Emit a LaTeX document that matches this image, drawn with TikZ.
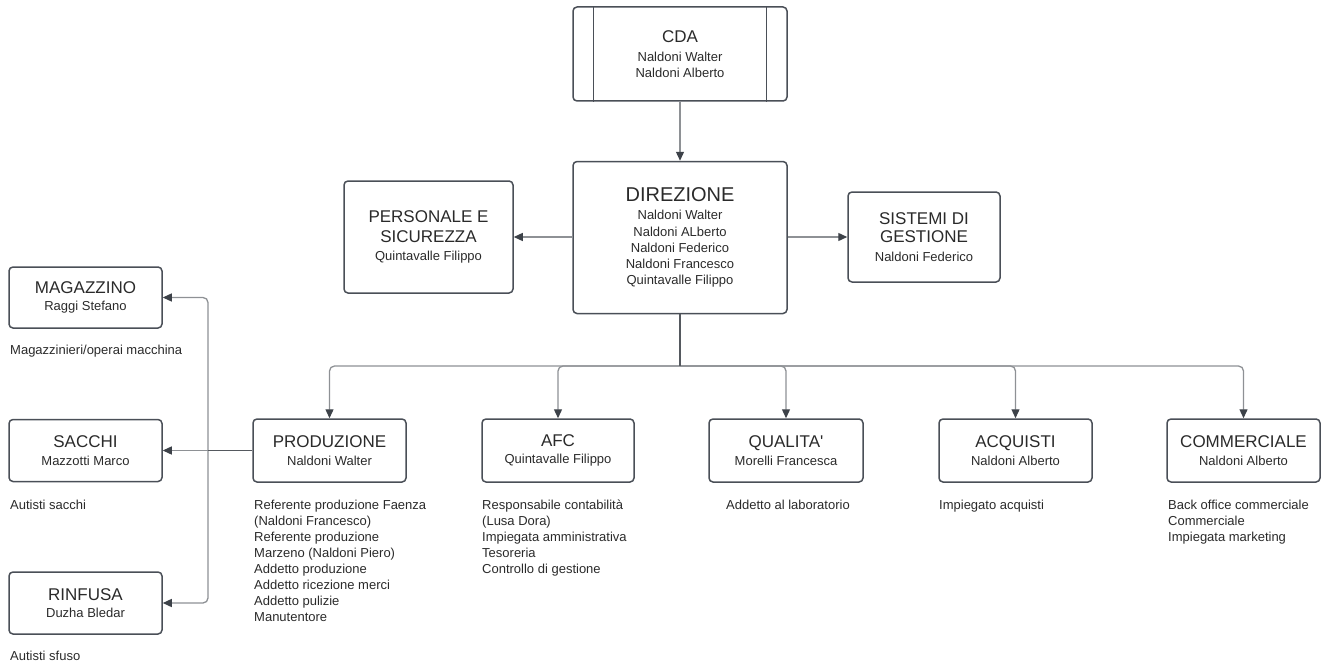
\documentclass[tikz,border=0pt]{standalone}
\usepackage{fontspec}
\setmainfont{Liberation Sans}
\usetikzlibrary{arrows.meta}
\definecolor{boxline}{HTML}{4A4F57}
\definecolor{connc}{HTML}{8E9195}
\definecolor{trunkc}{HTML}{55595F}
\definecolor{tipc}{HTML}{3D4249}
\definecolor{txt}{HTML}{2A2A2A}
\begin{document}
\begin{tikzpicture}[x=1pt,y=-1pt,
  box/.style={draw=boxline, line width=1.5pt, rounded corners=4pt, align=center,
    inner sep=0pt, text=txt, font=\fontsize{13}{16}\selectfont},
  conn/.style={draw=connc, line width=1.3pt, rounded corners=5pt,
    -{Triangle[length=9pt,width=8pt,color=tipc]}},
  trunk/.style={draw=trunkc, line width=1.3pt},
  list/.style={anchor=north west, align=left, inner sep=0pt, text=txt,
    font=\fontsize{13}{16}\selectfont}]
\useasboundingbox (0,0) rectangle (1327,666);

% top boxes
\node[box, minimum width=214pt, minimum height=94pt] (cda) at (680,54)
  {{\fontsize{17}{20}\selectfont CDA}\\[2.6pt]Naldoni Walter\\Naldoni Alberto};
\draw[draw=boxline, line width=1.3pt] ([xshift=21pt]cda.north west) -- ([xshift=21pt]cda.south west);
\draw[draw=boxline, line width=1.3pt] ([xshift=-21pt]cda.north east) -- ([xshift=-21pt]cda.south east);

\node[box, minimum width=214pt, minimum height=152pt, font=\fontsize{13}{16.3}\selectfont] (dir) at (680,237.5)
  {{\fontsize{20}{24}\selectfont DIREZIONE}\\[2.2pt]Naldoni Walter\\Naldoni ALberto\\Naldoni Federico\\Naldoni Francesco\\Quintavalle Filippo};

\node[box, minimum width=169pt, minimum height=112pt] (pers) at (428.5,237)
  {{\fontsize{17}{20}\selectfont PERSONALE E}\\[4pt]{\fontsize{17}{20}\selectfont SICUREZZA}\\[1.6pt]Quintavalle Filippo};

\node[box, minimum width=152pt, minimum height=90pt] (sis) at (924,237)
  {{\fontsize{17}{20}\selectfont SISTEMI DI}\\[2pt]{\fontsize{17}{20}\selectfont GESTIONE}\\[2.6pt]Naldoni Federico};

% department boxes
\node[box, minimum width=153pt, minimum height=63pt] (prod) at (329.5,450.5)
  {{\fontsize{17}{20}\selectfont PRODUZIONE}\\[1.6pt]Naldoni Walter};
\node[box, minimum width=152pt, minimum height=63pt] (afc) at (558,450.5)
  {{\fontsize{17}{20}\selectfont AFC}\\[1.6pt]Quintavalle Filippo};
\node[box, minimum width=154pt, minimum height=63pt] (qual) at (786,450.5)
  {{\fontsize{17}{20}\selectfont QUALITA\textquotesingle}\\[1.6pt]Morelli Francesca};
\node[box, minimum width=153pt, minimum height=63pt] (acq) at (1015.5,450.5)
  {{\fontsize{17}{20}\selectfont ACQUISTI}\\[1.6pt]Naldoni Alberto};
\node[box, minimum width=153pt, minimum height=63pt] (comm) at (1243.5,450.5)
  {{\fontsize{17}{20}\selectfont COMMERCIALE}\\[1.6pt]Naldoni Alberto};

% left boxes
\node[box, minimum width=153pt, minimum height=61pt] (mag) at (85.5,297.5)
  {{\fontsize{17}{20}\selectfont MAGAZZINO}\\[1.6pt]Raggi Stefano};
\node[box, minimum width=153pt, minimum height=62pt] (sac) at (85.5,450.5)
  {{\fontsize{17}{20}\selectfont SACCHI}\\[1.6pt]Mazzotti Marco};
\node[box, minimum width=153pt, minimum height=62pt] (rin) at (85.5,603)
  {{\fontsize{17}{20}\selectfont RINFUSA}\\[1.6pt]Duzha Bledar};

% connectors
\draw[conn] (cda.south) -- (dir.north);
\draw[conn] (pers.east -| dir.west) -- (pers.east);
\draw[conn] (sis.west -| dir.east) -- (sis.west);

\coordinate (bus) at (680,366);
\draw[conn] (bus) -| (prod.north);
\draw[conn] (bus) -| (afc.north);
\draw[conn] (bus) -| (qual.north);
\draw[conn] (bus) -| (acq.north);
\draw[conn] (bus) -| (comm.north);
\draw[trunk] (dir.south) -- (bus);

\coordinate (pj) at (208,450.5);
\draw[conn] (pj) -- (sac.east);
\draw[conn] (pj) |- (mag.east);
\draw[conn] (pj) |- (rin.east);
\draw[trunk] (prod.west) -- (pj);

% lists
\node[list] (maglist) at (10,345) {Magazzinieri/operai macchina};
\node[list] (saclist) at (10,500) {Autisti sacchi};
\node[list] (rinlist) at (10,650.5) {Autisti sfuso};
\node[list] (prodlist) at (254,500) {Referente produzione Faenza\\(Naldoni Francesco)\\Referente produzione\\Marzeno (Naldoni Piero)\\Addetto produzione\\Addetto ricezione merci\\Addetto pulizie\\Manutentore};
\node[list] (afclist) at (482,500) {Responsabile contabilità\\(Lusa Dora)\\Impiegata amministrativa\\Tesoreria\\Controllo di gestione};
\node[list] (quallist) at (726,500) {Addetto al laboratorio};
\node[list] (acqlist) at (939,500) {Impiegato acquisti};
\node[list] (commlist) at (1168,500) {Back office commerciale\\Commerciale\\Impiegata marketing};
\end{tikzpicture}
\end{document}
